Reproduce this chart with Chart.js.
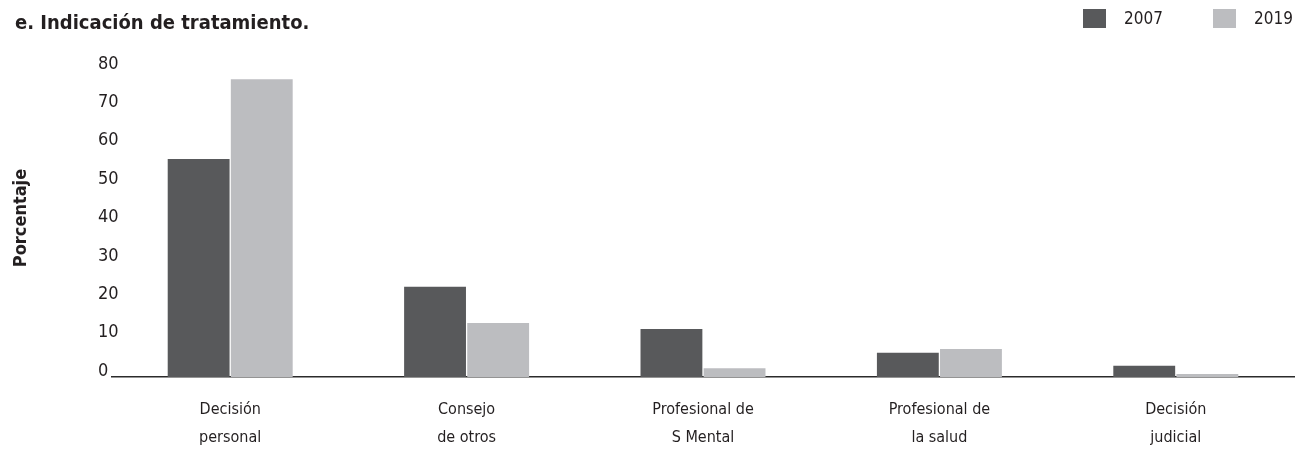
<html lang="es">
<head>
    <meta charset="UTF-8">
    <title>Indicación de tratamiento</title>
    <script src="https://cdn.jsdelivr.net/npm/chart.js"></script>
    <style>
        body { margin: 0; background: #fff; }
        #wrap { width: 1303px; height: 450px; }
    </style>
</head>
<body>
<div id="wrap"><canvas id="barChart"></canvas></div>
<script>
const categories = [
    ['Decisión', 'personal'],
    ['Consejo', 'de otros'],
    ['Profesional de', 'S Mental'],
    ['Profesional de', 'la salud'],
    ['Decisión', 'judicial']
];
const years = ['2007', '2019'];
const values2007 = [56.8, 23.5, 12.5, 6.3, 2.9];
const values2019 = [77.6, 14.1, 2.3, 7.3, 0.8];
const yTicks = [0, 10, 20, 30, 40, 50, 60, 70, 80];

const FONT = "'Liberation Sans Narrow', 'DejaVu Sans Condensed', sans-serif";
const TEXT = '#231f20';

// title, y label and legend drawn by hand so they share one row
const headerPlugin = {
    id: 'header',
    afterDraw(chart) {
        const ctx = chart.ctx;
        ctx.save();
        ctx.fillStyle = TEXT;
        ctx.textBaseline = 'middle';
        ctx.font = 'bold 20px ' + FONT;
        ctx.textAlign = 'left';
        ctx.fillText('e. Indicación de tratamiento.', 15, 24);

        ctx.save();
        ctx.translate(21, 218);
        ctx.rotate(-Math.PI / 2);
        ctx.textAlign = 'center';
        ctx.font = 'bold 18px ' + FONT;
        ctx.fillText('Porcentaje', 0, 0);
        ctx.restore();

        ctx.font = '17px ' + FONT;
        ctx.textAlign = 'left';
        const starts = [1083, 1213];
        chart.data.datasets.forEach((ds, i) => {
            ctx.fillStyle = ds.backgroundColor;
            ctx.fillRect(starts[i], 9, 23, 19);
            ctx.fillStyle = TEXT;
            ctx.fillText(ds.label, starts[i] + 41, 20);
        });
        ctx.restore();
    }
};

const ctx = document.getElementById('barChart').getContext('2d');
new Chart(ctx, {
    type: 'bar',
    data: {
        labels: categories,
        datasets: [
            { label: years[0], data: values2007, backgroundColor: '#58595b' },
            { label: years[1], data: values2019, backgroundColor: '#bcbdc0' }
        ]
    },
    options: {
        responsive: true,
        maintainAspectRatio: false,
        animation: false,
        categoryPercentage: 0.534,
        barPercentage: 0.98,
        layout: { padding: { top: 70, left: 98, right: 9, bottom: 0 } },
        plugins: {
            legend: { display: false },
            tooltip: { enabled: false }
        },
        scales: {
            x: {
                grid: { display: false },
                border: { display: true, color: '#2b2b2b', width: 1.5 },
                ticks: {
                    color: TEXT,
                    font: { family: FONT, size: 16, lineHeight: 1.8 },
                    maxRotation: 0,
                    autoSkip: false,
                    padding: 10
                },
                afterFit(scale) { scale.height = 73; }
            },
            y: {
                min: 0,
                max: 80,
                grid: { display: false },
                border: { display: false },
                afterBuildTicks(scale) { scale.ticks = yTicks.map(v => ({ value: v })); },
                ticks: {
                    color: TEXT,
                    font: { family: FONT, size: 18 },
                    // mirrored so the labels are not clipped to the narrow axis box
                    mirror: true,
                    crossAlign: 'near',
                    labelOffset: -6,
                    padding: -14
                },
                afterFit(scale) { scale.width = 14; }
            }
        }
    },
    plugins: [headerPlugin]
});
</script>
</body>
</html>
